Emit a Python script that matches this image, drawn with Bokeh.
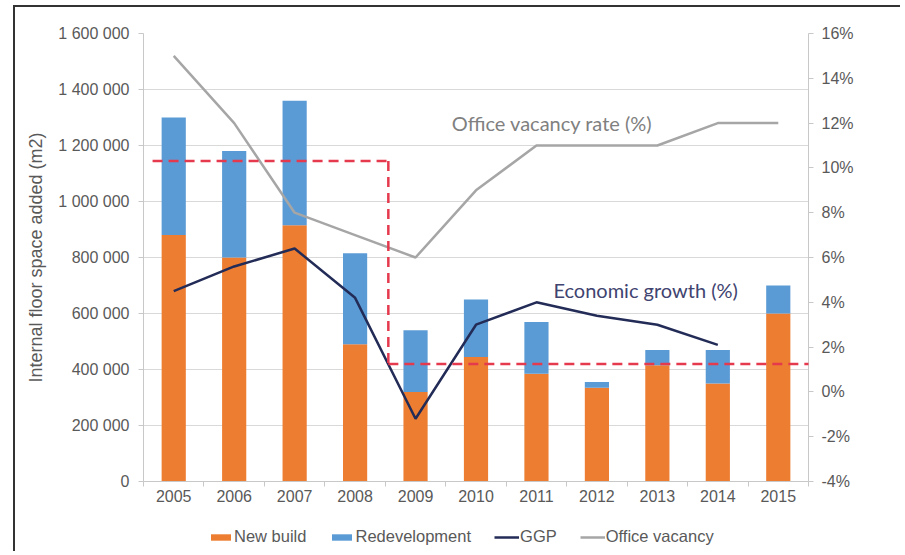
import numpy as np
from bokeh.plotting import figure
from bokeh.layouts import column
from bokeh.models import (ColumnDataSource, Range1d, LinearAxis, FixedTicker,
                          Legend, LegendItem, Label, Arrow)
from bokeh.embed import file_html
from bokeh.resources import INLINE

# ---------------- data ----------------
years = ["2005", "2006", "2007", "2008", "2009", "2010",
         "2011", "2012", "2013", "2014", "2015"]
new_build = [880000, 800000, 915000, 490000, 320000, 445000,
             385000, 335000, 415000, 350000, 600000]
redevelopment = [420000, 380000, 445000, 325000, 220000, 205000,
                 185000, 20000, 55000, 120000, 100000]
ggp = [4.5, 5.6, 6.4, 4.2, -1.2, 3.0, 4.0, 3.4, 3.0, 2.1]          # 2005-2014
office_vacancy = [15, 12, 8, 7, 6, 9, 11, 11, 11, 12, 12]
left_ticks = [0, 200000, 400000, 600000, 800000, 1000000,
              1200000, 1400000, 1600000]
right_ticks = [-4, -2, 0, 2, 4, 6, 8, 10, 12, 14, 16]
legend_labels = ["New build", "Redevelopment", "GGP", "Office vacancy"]
# red dashed reference levels (left-axis units): 2005-2008 and 2009-2015
period1_years = ["2005", "2008"]
period2_years = ["2009", "2015"]
level_period1 = 1145000
level_period2 = 420000

ORANGE = "#ED7D31"
BLUE = "#5B9BD5"
NAVY = "#232B57"
GREY = "#A6A6A6"
RED = "#E5394E"
TXT = "#595959"
AXIS = "#C8C8C8"
FONT = "Liberation Sans"

xpos = [i + 0.5 for i in range(len(years))]
src = ColumnDataSource(dict(x=xpos, years=years, new_build=new_build,
                            redevelopment=redevelopment))

p = figure(width=885, height=504, output_backend="svg", toolbar_location=None,
           x_range=Range1d(0, len(years)), y_range=Range1d(left_ticks[0], left_ticks[-1]),
           min_border_left=128, min_border_right=92, min_border_top=26,
           min_border_bottom=30)
p.outline_line_color = None
p.background_fill_color = "white"
p.extra_y_ranges = {"pct": Range1d(right_ticks[0], right_ticks[-1])}

# x axis
xa = p.xaxis[0]
xa.ticker = FixedTicker(ticks=xpos, minor_ticks=list(range(len(years) + 1)))
xa.major_label_overrides = {x: y for x, y in zip(xpos, years)}
xa.major_tick_line_color = None
xa.major_tick_in = 0
xa.major_tick_out = 0
xa.minor_tick_line_color = AXIS
xa.minor_tick_in = 0
xa.minor_tick_out = 5
xa.axis_line_color = AXIS
xa.major_label_text_font = FONT
xa.major_label_text_font_size = "16px"
xa.major_label_text_color = TXT
xa.major_label_standoff = 3

# left axis
ya = p.yaxis[0]
lt = FixedTicker(ticks=left_ticks, minor_ticks=[])
ya.ticker = lt
ya.major_label_overrides = {t: f"{t:,}".replace(",", " ") for t in left_ticks}
ya.axis_line_color = AXIS
ya.major_tick_line_color = AXIS
ya.major_tick_in = 0
ya.major_tick_out = 5
ya.minor_tick_line_color = None
ya.major_label_text_font = FONT
ya.major_label_text_font_size = "16px"
ya.major_label_text_color = TXT
ya.major_label_standoff = 9
ya.axis_label = "Internal floor space added (m2)"
ya.axis_label_text_font = FONT
ya.axis_label_text_font_size = "18px"
ya.axis_label_text_font_style = "normal"
ya.axis_label_text_color = TXT
ya.axis_label_standoff = 9

# right axis
ra = LinearAxis(y_range_name="pct", ticker=FixedTicker(ticks=right_ticks, minor_ticks=[]))
ra.major_label_overrides = {t: f"{t}%" for t in right_ticks}
ra.axis_line_color = AXIS
ra.major_tick_line_color = AXIS
ra.major_tick_in = 0
ra.major_tick_out = 5
ra.minor_tick_line_color = None
ra.major_label_text_font = FONT
ra.major_label_text_font_size = "16px"
ra.major_label_text_color = TXT
ra.major_label_standoff = 8
p.add_layout(ra, "right")

p.xgrid.visible = False
p.ygrid.ticker = lt
p.ygrid.grid_line_color = "#D9D9D9"
p.ygrid.grid_line_width = 1

# bars
bars = p.vbar_stack(["new_build", "redevelopment"], x="x", width=0.4,
                    fill_color=[ORANGE, BLUE], line_color=None, source=src)

# lines
r_vac = p.line(xpos, office_vacancy, y_range_name="pct", line_color=GREY,
               line_width=2.5)
r_ggp = p.line(xpos[:len(ggp)], ggp, y_range_name="pct", line_color=NAVY,
               line_width=2.5)

# red dashed reference lines
i1s = years.index(period1_years[0]); i1e = years.index(period1_years[1])
i2s = years.index(period2_years[0]); i2e = years.index(period2_years[1])
x_a = xpos[i1s] - 0.35
x_b = xpos[i1e] + 0.55
x_c = xpos[i2e] + 0.78
seg = ColumnDataSource(dict(x0=[x_a, x_b, x_b], y0=[level_period1, level_period1, level_period2],
                            x1=[x_b, x_b, x_c], y1=[level_period1, level_period2, level_period2]))
p.add_layout(Arrow(start=None, end=None, x_start="x0", y_start="y0", x_end="x1",
                   y_end="y1", source=seg, line_color=RED, line_width=2.5,
                   line_dash="10 6"))

# annotations
p.add_layout(Label(x=5.1, y=12, y_range_name="pct", text="Office vacancy rate (%)",
                   text_font="Lato", text_font_size="20px", text_color="#808080",
                   text_baseline="middle", text_align="left"))
p.add_layout(Label(x=6.78, y=4.55, y_range_name="pct", text="Economic growth (%)",
                   text_font="Lato", text_font_size="20px", text_color="#3F4470",
                   text_baseline="middle", text_align="left"))

# ---------------- legend strip ----------------
p2 = figure(width=885, height=40, output_backend="svg", toolbar_location=None,
            x_range=Range1d(0, 1), y_range=Range1d(0, 1),
            x_axis_type=None, y_axis_type=None,
            min_border_left=0, min_border_right=0, min_border_top=0,
            min_border_bottom=0)
p2.outline_line_color = None
p2.background_fill_color = "white"
# key glyphs only (placed outside the strip's visible range)
g_new = p2.vbar(x=[-5], top=[-5], bottom=[-6], width=0.4, fill_color=ORANGE, line_color=None)
g_red = p2.vbar(x=[-5], top=[-5], bottom=[-6], width=0.4, fill_color=BLUE, line_color=None)
g_ggp = p2.line(x=[-5, -4], y=[-5, -5], line_color=NAVY, line_width=2.5)
g_vac = p2.line(x=[-5, -4], y=[-5, -5], line_color=GREY, line_width=2.5)

legend = Legend(items=[LegendItem(label=l, renderers=[r]) for l, r in
                       zip(legend_labels, [g_new, g_red, g_ggp, g_vac])],
                orientation="horizontal", location=(65, 5),
                label_text_font=FONT, label_text_font_size="16.5px",
                label_text_color=TXT, border_line_color=None,
                background_fill_alpha=0, padding=0, margin=0, spacing=23,
                label_standoff=1, glyph_width=25, glyph_height=8)
p2.add_layout(legend)

layout = column(p, p2, spacing=0,
                styles={"margin-left": "13px", "margin-top": "5px",
                        "border-left": "2px solid #333333",
                        "border-top": "2px solid #333333"})

open("out.html", "w").write(file_html(layout, INLINE))
